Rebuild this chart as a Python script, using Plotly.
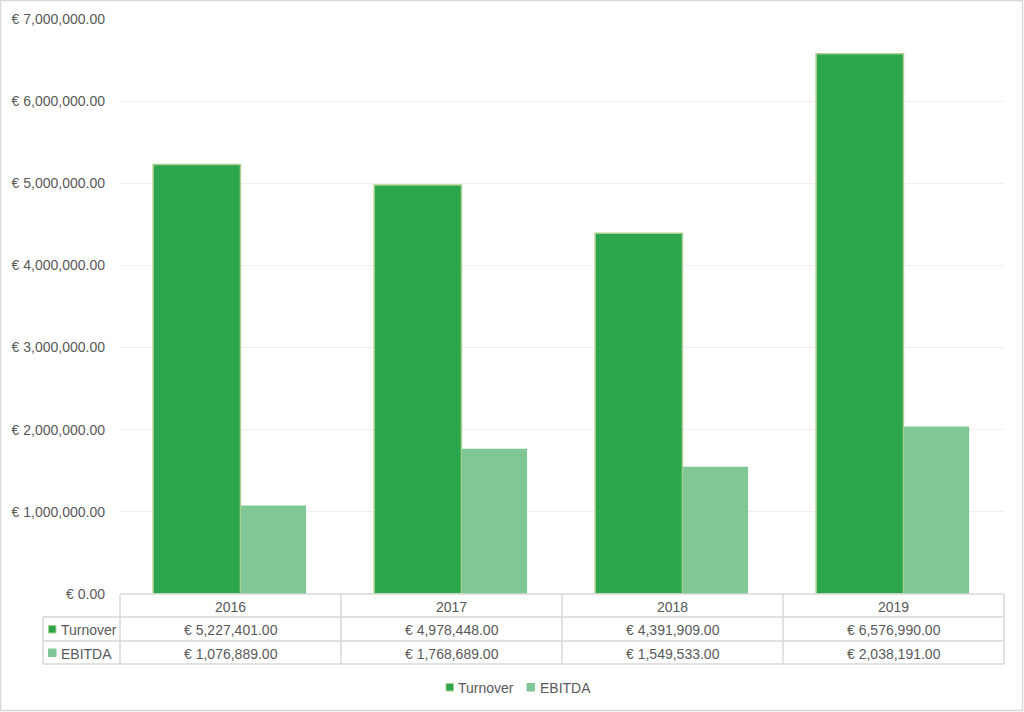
import plotly.graph_objects as go

years = ["2016", "2017", "2018", "2019"]
turnover = [5227401, 4978448, 4391909, 6576990]
ebitda = [1076889, 1768689, 1549533, 2038191]
series_names = ["Turnover", "EBITDA"]

W, H = 1024, 712
L, R, T, B = 120, 1004, 19, 594  # plot area pixel bounds

def px(x):
    return (x - L) / (R - L)

def py(y):
    return (B - y) / (B - T)

C_TURN = "#2ba64c"
C_TURN_LINE = "#a9d08e"
C_EBIT = "#7fc795"
FONT = "Liberation Sans"
FS = 14
TXT = "#595959"
GRID = "#d9d9d9"

fig = go.Figure()
fig.add_trace(go.Bar(
    x=years, y=turnover, name=series_names[0],
    marker=dict(color=C_TURN, line=dict(color=C_TURN_LINE, width=1.5)),
    width=0.395, offset=-0.35, showlegend=False,
))
fig.add_trace(go.Bar(
    x=years, y=ebitda, name=series_names[1],
    marker=dict(color=C_EBIT, line=dict(width=0)),
    width=0.295, offset=0.047, showlegend=False,
))

def fmt(v):
    return "€ {:,.2f}".format(v)

def txt(x, y, s, anchor="center"):
    return dict(xref="paper", yref="paper", x=px(x), y=py(y), xanchor=anchor, yanchor="middle",
                text=s, showarrow=False, font=dict(family=FONT, size=FS, color=TXT))

shapes = []
annotations = []
col_x = [L + i * (R - L) / len(years) for i in range(len(years) + 1)]
row_y = [594, 617, 641, 664]
lc = dict(color=GRID, width=1.5)
shapes.append(dict(type="line", xref="paper", yref="paper", x0=px(L), x1=px(R), y0=py(row_y[0]), y1=py(row_y[0]), line=lc))
for yy in row_y[1:]:
    shapes.append(dict(type="line", xref="paper", yref="paper", x0=px(43), x1=px(R), y0=py(yy), y1=py(yy), line=lc))
for xx in col_x:
    shapes.append(dict(type="line", xref="paper", yref="paper", x0=px(xx), x1=px(xx), y0=py(row_y[0]), y1=py(row_y[-1]), line=lc))
shapes.append(dict(type="line", xref="paper", yref="paper", x0=px(43), x1=px(43), y0=py(row_y[1]), y1=py(row_y[-1]), line=lc))

for i, yr in enumerate(years):
    cx = (col_x[i] + col_x[i + 1]) / 2
    annotations.append(txt(cx, (row_y[0] + row_y[1]) / 2 + 1, yr))
    annotations.append(txt(cx, (row_y[1] + row_y[2]) / 2 + 1, fmt(turnover[i])))
    annotations.append(txt(cx, (row_y[2] + row_y[3]) / 2 + 1, fmt(ebitda[i])))

keys = [(series_names[0], C_TURN, C_TURN_LINE), (series_names[1], C_EBIT, C_EBIT)]
for j, (nm, fc, lcol) in enumerate(keys):
    yc = (row_y[j + 1] + row_y[j + 2]) / 2
    shapes.append(dict(type="rect", xref="paper", yref="paper", x0=px(48.5), x1=px(56), y0=py(yc + 4), y1=py(yc - 3.5),
                       fillcolor=fc, line=dict(color=lcol, width=1)))
    annotations.append(txt(59, yc + 1, nm, "left"))

# custom legend at bottom
leg_pos = [(446, 456), (527, 538)]
for (kx, tx), (nm, fc, lcol) in zip(leg_pos, keys):
    shapes.append(dict(type="rect", xref="paper", yref="paper", x0=px(kx), x1=px(kx + 7.5), y0=py(691), y1=py(683.5),
                       fillcolor=fc, line=dict(color=lcol, width=1)))
    annotations.append(txt(tx, 688, nm, "left"))

# outer chart border
shapes.append(dict(type="rect", xref="paper", yref="paper", x0=px(0.5), x1=px(1022.5), y0=py(0.5), y1=py(710.5),
                   line=dict(color=GRID, width=1.5), fillcolor="rgba(0,0,0,0)", layer="below"))

fig.update_layout(
    width=W, height=H,
    margin=dict(l=L, r=W - R, t=T, b=H - B, pad=0),
    paper_bgcolor="white", plot_bgcolor="white",
    barmode="overlay", showlegend=False,
    font=dict(family=FONT, size=FS, color=TXT),
    xaxis=dict(showticklabels=False, showgrid=False, zeroline=False, showline=False, ticks="",
               range=[-0.5, 3.5]),
    yaxis=dict(range=[0, 7000000], dtick=1000000, tickprefix="€ ", tickformat=",.2f",
               showgrid=True, gridcolor="#efefef", gridwidth=1, zeroline=False, showline=False,
               ticks="", ticklabelstandoff=14, tickfont=dict(family=FONT, size=FS, color=TXT)),
    shapes=shapes, annotations=annotations,
)

fig.write_html("out.html", config={"displayModeBar": False},
               post_script="document.body.style.margin='0';document.body.style.overflow='hidden';")
